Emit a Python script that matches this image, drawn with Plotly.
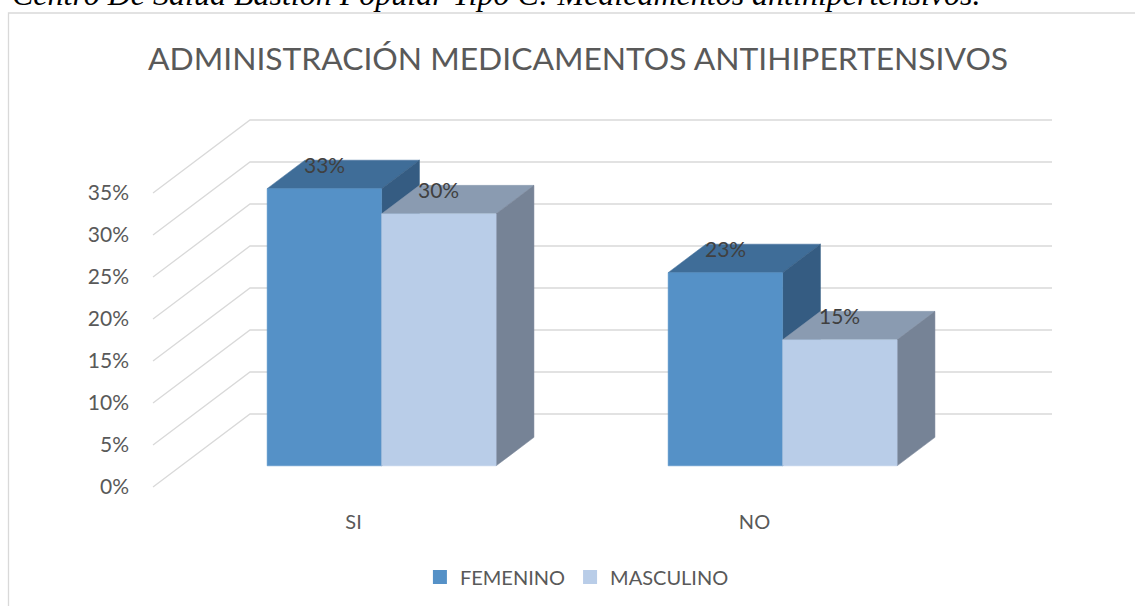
import plotly.graph_objects as go

# ---------------- data ----------------
categories = ["SI", "NO"]
series_names = ["FEMENINO", "MASCULINO"]
femenino = [33, 23]
masculino = [30, 15]
y_ticks = [0, 5, 10, 15, 20, 25, 30, 35]
y_tick_labels = ["0%", "5%", "10%", "15%", "20%", "25%", "30%", "35%"]
title_text = "ADMINISTRACIÓN MEDICAMENTOS ANTIHIPERTENSIVOS"
caption_text = "Centro De Salud Bastión Popular Tipo C: Medicamentos antihipertensivos."

# ---------------- styling / geometry ----------------
W, H = 1135, 606
X0PX, UPX = 153.0, 401.0      # pixel of u=0 and pixels per category unit
Y0PX, VPX = 487.0, 8.4        # pixel of 0% and pixels per percent
DX = 97.0 / UPX               # depth offset (category units)
DY = 73.0 / VPX               # depth offset (percent units)
F1, F2 = 0.29, 0.68           # bar front / back depth fractions
BW = 0.2855                   # bar width (category units)
WALL_W = 2.0                  # back wall width (category units)

front_cols = ["#5591C7", "#B9CDE8"]
top_cols = ["#3F6D98", "#8A9BB1"]
side_cols = ["#355C82", "#768396"]
grid_col = "#D9D9D9"
text_col = "#595959"
label_col = "#404040"
FONT = "Lato"

xr = [-X0PX / UPX, (W - X0PX) / UPX]
yr = [(Y0PX - H) / VPX, Y0PX / VPX]

fig = go.Figure()

# gridlines: left wall diagonals + back wall horizontals
gx, gy = [], []
for v in y_ticks:
    gx += [0, DX, DX + WALL_W, None]
    gy += [v, v + DY, v + DY, None]
fig.add_trace(go.Scatter(x=gx, y=gy, mode="lines",
                         line=dict(color=grid_col, width=1.3),
                         hoverinfo="skip", showlegend=False))


def poly(xs, ys, color):
    fig.add_trace(go.Scatter(x=xs + [xs[0]], y=ys + [ys[0]], mode="lines",
                             fill="toself", fillcolor=color,
                             line=dict(color=color, width=0.5),
                             hoverinfo="skip", showlegend=False))


annots = []
series_vals = [femenino, masculino]
for i, cat in enumerate(categories):
    c = i + 0.5
    for s, vals in enumerate(series_vals):
        val = vals[i]
        xl = c - BW + s * BW + F1 * DX
        xrr = xl + BW
        yb = F1 * DY
        yt = val + F1 * DY
        ddx = (F2 - F1) * DX
        ddy = (F2 - F1) * DY
        # top face
        poly([xl, xrr, xrr + ddx, xl + ddx], [yt, yt, yt + ddy, yt + ddy], top_cols[s])
        # side face
        poly([xrr, xrr + ddx, xrr + ddx, xrr], [yb, yb + ddy, yt + ddy, yt], side_cols[s])
        # front face
        poly([xl, xrr, xrr, xl], [yb, yb, yt, yt], front_cols[s])
        annots.append(dict(x=(xl + xrr) / 2, y=yt + ddy, xref="x", yref="y",
                           text=f"{val}%", showarrow=False, yshift=-4,
                           font=dict(family=FONT, size=21, color=label_col)))

# legend entries
for s, name in enumerate(series_names):
    fig.add_trace(go.Scatter(x=[None], y=[None], mode="markers", name=name,
                             marker=dict(symbol="square", size=14, color=front_cols[s])))

annots.append(dict(x=577.5 / W, y=1 - 58 / H, xref="paper", yref="paper", text=title_text,
                   showarrow=False, xanchor="center", yanchor="middle",
                   font=dict(family=FONT, size=31.8, color=text_col)))
annots.append(dict(x=10 / W, y=1 - 14.5 / H, xref="paper", yref="paper", text=caption_text,
                   showarrow=False, xanchor="left", yanchor="bottom",
                   font=dict(family="Liberation Serif", size=32, color="black", style="italic")))

fig.update_layout(
    width=W, height=H,
    margin=dict(l=0, r=0, t=0, b=0),
    paper_bgcolor="white", plot_bgcolor="white",
    showlegend=True,
    legend=dict(orientation="h", x=0.5083, xanchor="center", y=1 - 577 / H, yanchor="middle",
                font=dict(family=FONT, size=20, color=text_col), bgcolor="rgba(0,0,0,0)"),
    xaxis=dict(range=xr, domain=[0, 1], showgrid=False, zeroline=False, showline=False,
               tickmode="array", tickvals=[i + 0.5 for i in range(len(categories))],
               ticktext=categories, anchor="free", position=1 - 508 / H, ticks="",
               tickfont=dict(family=FONT, size=20, color=text_col)),
    yaxis=dict(range=yr, domain=[0, 1], showgrid=False, zeroline=False, showline=False,
               tickmode="array", tickvals=y_ticks, ticktext=y_tick_labels, anchor="free",
               position=129 / W, ticks="",
               tickfont=dict(family=FONT, size=21, color=text_col)),
    annotations=annots,
    shapes=[dict(type="rect", xref="paper", yref="paper", x0=8.5 / W, x1=1.05,
                 y0=-0.2, y1=1 - 13 / H, line=dict(color=grid_col, width=1.3),
                 fillcolor="rgba(0,0,0,0)", layer="below")],
)

fig.write_html("out.html",
               config={"displayModeBar": False},
               post_script="document.body.style.margin='0';document.body.style.overflow='hidden';")
